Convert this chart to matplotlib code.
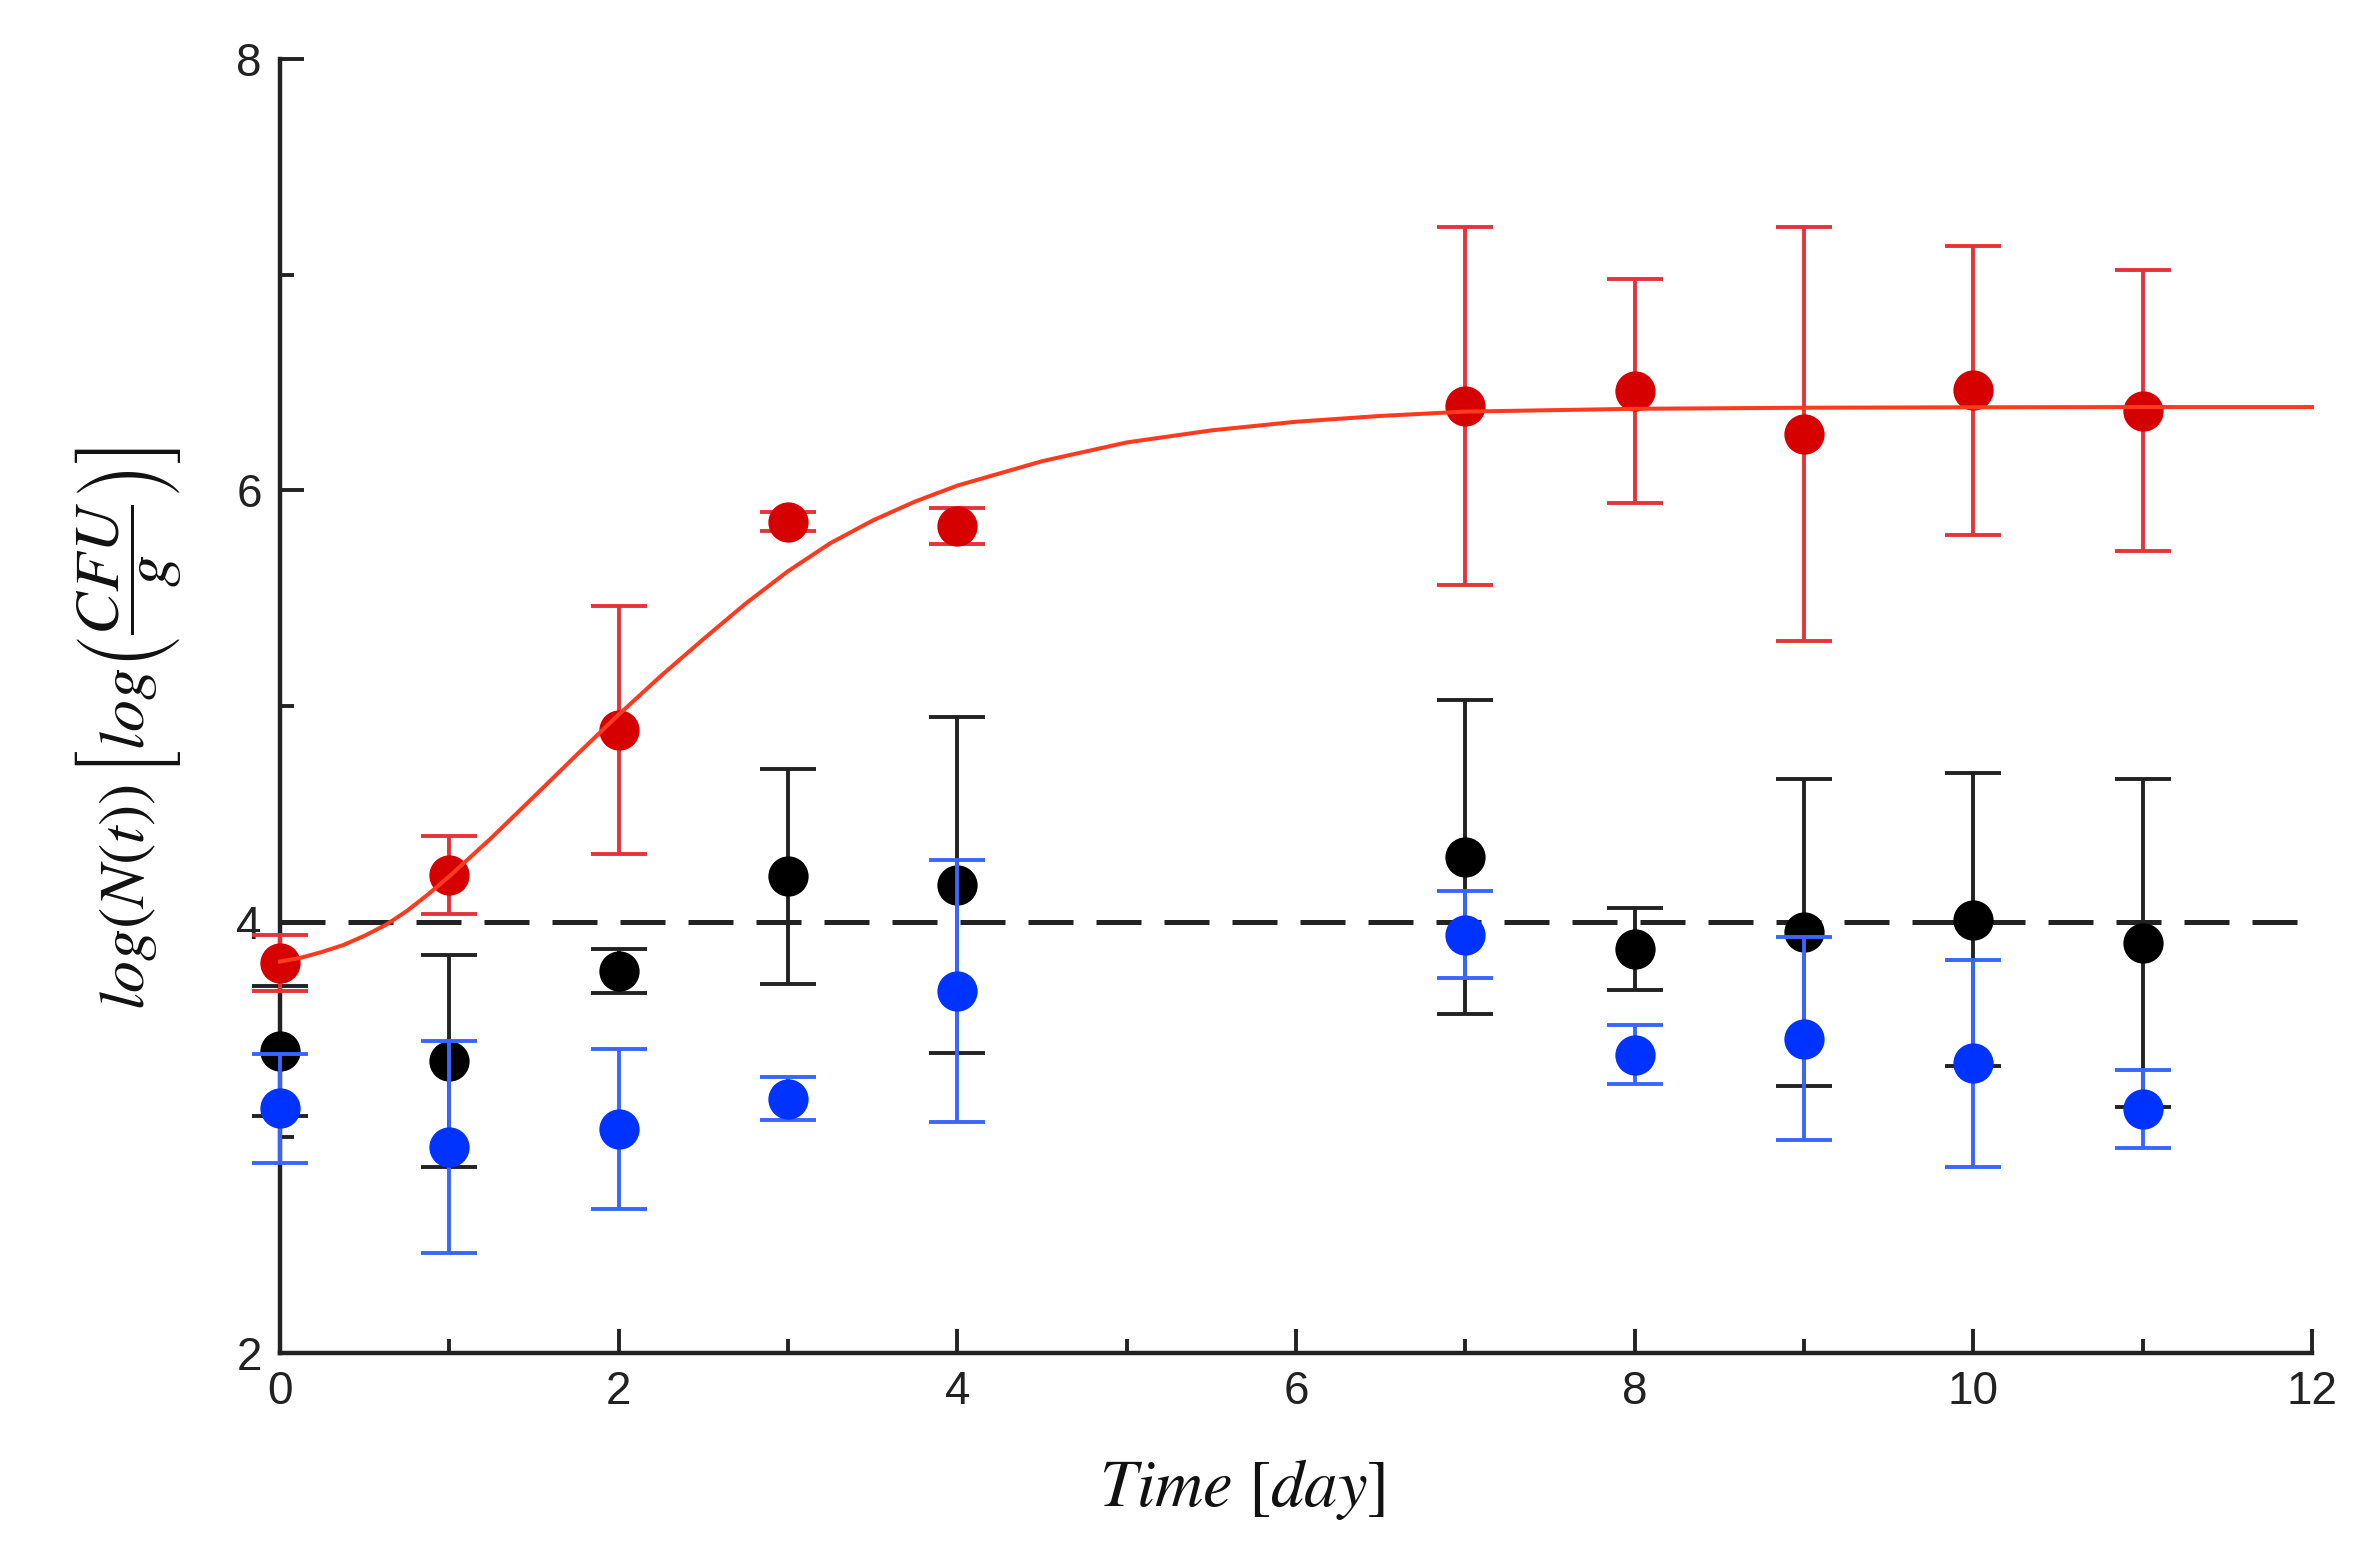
import matplotlib
matplotlib.use("Agg")
import matplotlib.pyplot as plt
from matplotlib.ticker import MultipleLocator

plt.rcParams['mathtext.fontset'] = 'stix'
plt.rcParams['font.family'] = ['Liberation Sans', 'DejaVu Sans']

# ---- data ----
days = [0, 1, 2, 3, 4, 7, 8, 9, 10, 11]

red_mean = [3.81, 4.215, 4.89, 5.855, 5.835, 6.39, 6.46, 6.26, 6.465, 6.37]
red_err = [0.13, 0.18, 0.575, 0.045, 0.083, 0.83, 0.52, 0.96, 0.67, 0.65]

black_mean = [3.40, 3.354, 3.77, 4.21, 4.17, 4.30, 3.873, 3.95, 4.01, 3.90]
black_err = [0.30, 0.49, 0.103, 0.50, 0.777, 0.729, 0.19, 0.71, 0.68, 0.76]

blue_mean = [3.135, 2.955, 3.04, 3.18, 3.68, 3.94, 3.383, 3.457, 3.344, 3.13]
blue_err = [0.253, 0.49, 0.37, 0.10, 0.607, 0.20, 0.138, 0.47, 0.48, 0.18]

# fitted growth curve
curve_t = [0.0, 0.125, 0.25, 0.375, 0.5, 0.625, 0.75, 0.875, 1.0, 1.25, 1.5,
           1.75, 2.0, 2.25, 2.5, 2.75, 3.0, 3.25, 3.5, 3.75, 4.0, 4.5, 5.0,
           5.5, 6.0, 6.5, 7.0, 8.0, 9.0, 10.0, 11.0, 12.0]
curve_y = [3.815, 3.833, 3.86, 3.892, 3.935, 3.985, 4.05, 4.127, 4.21, 4.39,
           4.58, 4.772, 4.96, 5.14, 5.31, 5.475, 5.625, 5.755, 5.86, 5.948,
           6.022, 6.135, 6.222, 6.278, 6.318, 6.345, 6.365, 6.378, 6.383,
           6.385, 6.386, 6.386]

threshold = 4.0
x_range = [0, 12]

# ---- figure ----
W, H, DPI = 2371, 1550, 100
fig = plt.figure(figsize=(W / DPI, H / DPI), dpi=DPI)
ax = fig.add_axes([280 / W, 1 - 1353 / H, (2312 - 280) / W, (1353 - 59) / H])

ms = 29
elw = 2.8
cap = 20


def draw(mean, err, fc, ec, z):
    cont = ax.errorbar(days, mean, yerr=err, fmt='o', ms=ms, color=fc,
                       ecolor=ec, elinewidth=elw, capsize=cap, capthick=elw,
                       clip_on=False, zorder=z)
    cont.lines[0].set_markeredgewidth(0)


draw(black_mean, black_err, '#000000', '#222222', 3)
draw(blue_mean, blue_err, '#0033FF', '#3A66FF', 4)
draw(red_mean, red_err, '#D70000', '#E2343A', 5)

ax.plot(curve_t, curve_y, color='#FF3A1E', lw=2.9, zorder=6, clip_on=False,
        solid_joinstyle='round')
ax.plot(x_range, [threshold, threshold], color='#222222', lw=3.6,
        dashes=(9, 4.6), zorder=2, clip_on=False)

ax.set_xlim(0, 12)
ax.set_ylim(2, 8)
for s in ['top', 'right']:
    ax.spines[s].set_visible(False)
for s in ['left', 'bottom']:
    ax.spines[s].set_linewidth(3.2)
    ax.spines[s].set_color('#222222')

ax.xaxis.set_major_locator(MultipleLocator(2))
ax.xaxis.set_minor_locator(MultipleLocator(1))
ax.yaxis.set_major_locator(MultipleLocator(2))
ax.yaxis.set_minor_locator(MultipleLocator(1))
ax.tick_params(which='both', direction='in', width=2.8, color='#222222')
ax.tick_params(which='major', length=17)
ax.tick_params(which='minor', length=10)
ax.tick_params(axis='x', which='major', pad=12, labelsize=33, labelcolor='#222222')
ax.tick_params(axis='y', which='major', pad=13, labelsize=33, labelcolor='#222222')

fig.text(1242 / W, 1 - 1490 / H, r'$Time\ [day]$', fontsize=48,
         ha='center', va='center', color='#111111')
fig.text(128 / W, 1 - 728 / H,
         r'$log(N(t))\,\left[log\left(\dfrac{CFU}{g}\right)\right]$',
         fontsize=46, rotation=90, ha='center', va='center', color='#111111')

fig.savefig('out.png', dpi=DPI)
